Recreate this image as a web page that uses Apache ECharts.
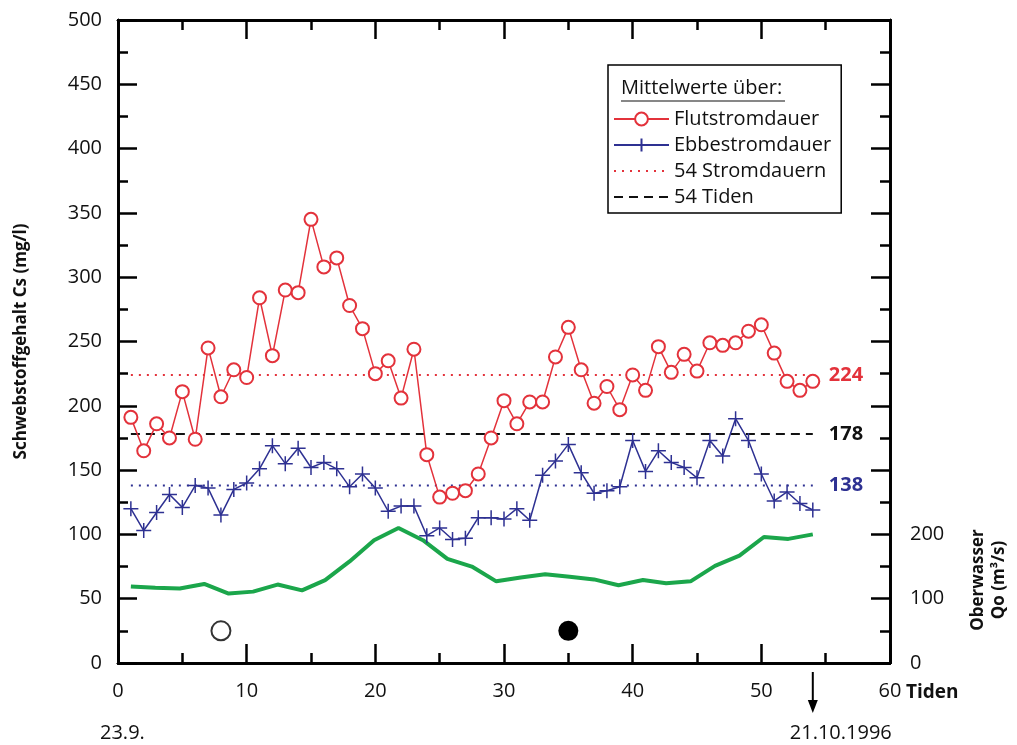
<!DOCTYPE html>
<html>
<head>
<meta charset="utf-8">
<script src="https://cdn.jsdelivr.net/npm/echarts@6/dist/echarts.min.js"></script>
<style>
  html, body { margin: 0; padding: 0; background: #fff; }
  #chart { width: 1017px; height: 745px; }
</style>
</head>
<body>
<div id="chart"></div>
<script>
// Tiden (Nummer der Tide)
const tides = [1, 2, 3, 4, 5, 6, 7, 8, 9, 10, 11, 12, 13, 14, 15, 16, 17, 18, 19, 20,
  21, 22, 23, 24, 25, 26, 27, 28, 29, 30, 31, 32, 33, 34, 35, 36, 37, 38, 39, 40,
  41, 42, 43, 44, 45, 46, 47, 48, 49, 50, 51, 52, 53, 54];

// Schwebstoffgehalt, Mittelwerte über Flutstromdauer (mg/l)
const flutValues = [191, 165, 186, 175, 211, 174, 245, 207, 228, 222, 284, 239, 290, 288, 345, 308, 315, 278, 260, 225,
  235, 206, 244, 162, 129, 132, 134, 147, 175, 204, 186, 203, 203, 238, 261, 228, 202, 215, 197, 224,
  212, 246, 226, 240, 227, 249, 247, 249, 258, 263, 241, 219, 212, 219];

// Schwebstoffgehalt, Mittelwerte über Ebbestromdauer (mg/l)
const ebbeValues = [120, 103, 117, 131, 121, 138, 136, 115, 135, 140, 151, 169, 155, 167, 152, 156, 151, 137, 147, 136,
  118, 122, 122, 99, 105, 96, 97, 113, 113, 112, 120, 111, 146, 157, 170, 148, 132, 134, 137, 173,
  149, 165, 156, 152, 144, 173, 161, 190, 173, 147, 126, 133, 124, 119];

// Oberwasser Qo (m³/s), Tagesmittel
const qoTides = [1, 2.9, 4.8, 6.7, 8.6, 10.5, 12.4, 14.3, 16.1, 18, 19.9, 21.8, 23.7, 25.6, 27.5,
  29.4, 31.3, 33.2, 35.1, 37, 38.9, 40.8, 42.6, 44.5, 46.4, 48.3, 50.2, 52.1, 54];
const qoValues = [119, 117, 116, 123, 108, 111, 122, 113, 129, 158, 191, 210, 191, 162, 150,
  127, 133, 138, 134, 130, 121, 129, 124, 127, 151, 167, 196, 193, 200];

// Mittelwerte über 54 Stromdauern / 54 Tiden
const meanFlut = 224;
const meanEbbe = 138;
const meanTide = 178;
const meanRange = [1, 54];

// Mondphasen (Vollmond / Neumond)
const fullMoon = [8];
const newMoon = [35];
const moonLevel = 25;

const xTicks = [0, 10, 20, 30, 40, 50, 60];
const startDate = "23.9.";
const endDate = "21.10.1996";
const endTide = 54;

const RED = "#e3323b";
const BLUE = "#2e3192";
const GREEN = "#1ba64b";
const FONT = "Open Sans";

const meanLine = (v) => meanRange.map((t) => [t, v]);

// Rahmenachse. grid 0: Beschriftung + Daten, grid 1: lange Striche,
// grid 2: kurze Striche – alle drei an derselben Stelle
const frameAxis = (extra, tickLen) => ({
  type: "value",
  axisLine: { show: true, onZero: false, lineStyle: { color: "#000", width: 2.5 } },
  axisTick: tickLen
    ? { show: true, inside: true, length: tickLen, lineStyle: { color: "#000", width: 2.5 } }
    : { show: false },
  axisLabel: { show: false },
  splitLine: { show: false },
  ...extra,
});

const xMin = xTicks[0];
const xMax = xTicks[xTicks.length - 1];
const gridBox = { left: 118, right: 127, top: 20, bottom: 82 };

const chart = echarts.init(document.getElementById("chart"));

const option = {
  animation: false,
  textStyle: { fontFamily: FONT },
  grid: [{ ...gridBox }, { ...gridBox }, { ...gridBox }],
  legend: {
    orient: "vertical",
    left: 608,
    top: 65,
    padding: [44, 10, 6, 5],
    itemGap: 6,
    itemWidth: 55,
    itemHeight: 16,
    borderColor: "#000",
    borderWidth: 1.5,
    borderRadius: 0,
    backgroundColor: "#fff",
    textStyle: { fontFamily: FONT, fontSize: 20, color: "#111" },
    data: [
      "Flutstromdauer",
      "Ebbestromdauer",
      { name: "54 Stromdauern", itemStyle: { opacity: 0 } },
      { name: "54 Tiden", itemStyle: { opacity: 0 } },
    ],
  },
  xAxis: [
    frameAxis({
      min: xMin, max: xMax, interval: 10,
      axisLabel: { show: true, fontSize: 20, color: "#111", margin: 18 },
    }, 0),
    frameAxis({ min: xMin, max: xMax, interval: 10, position: "top" }, 0),
    frameAxis({ gridIndex: 1, min: xMin, max: xMax, interval: 10 }, 19),
    frameAxis({ gridIndex: 1, min: xMin, max: xMax, interval: 10, position: "top" }, 19),
    frameAxis({ gridIndex: 2, min: xMin, max: xMax, interval: 5 }, 10),
    frameAxis({ gridIndex: 2, min: xMin, max: xMax, interval: 5, position: "top" }, 10),
  ],
  yAxis: [
    frameAxis({
      min: 0, max: 500, interval: 50,
      axisLabel: { show: true, fontSize: 20, color: "#111", margin: 16 },
      name: "Schwebstoffgehalt Cs (mg/l)",
      nameLocation: "middle",
      nameGap: 88,
      nameTextStyle: { fontSize: 17, fontWeight: "bold", color: "#111" },
    }, 0),
    frameAxis({
      min: 0, max: 1000, interval: 100, position: "right",
      axisLabel: {
        show: true, fontSize: 20, color: "#111", margin: 20,
        formatter: (v) => (v <= 200 ? String(v) : ""),
      },
    }, 0),
    frameAxis({ gridIndex: 1, min: 0, max: 500, interval: 50 }, 19),
    frameAxis({ gridIndex: 1, min: 0, max: 500, interval: 50, position: "right" }, 19),
    frameAxis({ gridIndex: 2, min: 0, max: 500, interval: 25 }, 10),
    frameAxis({ gridIndex: 2, min: 0, max: 500, interval: 25, position: "right" }, 10),
  ],
  series: [
    {
      name: "Flutstromdauer",
      type: "line",
      data: tides.map((t, i) => [t, flutValues[i]]),
      symbol: "emptyCircle",
      symbolSize: 13,
      lineStyle: { color: RED, width: 1.5 },
      itemStyle: { color: RED, borderWidth: 1.5 },
      z: 5,
    },
    {
      name: "Ebbestromdauer",
      type: "line",
      data: tides.map((t, i) => [t, ebbeValues[i]]),
      symbol: "path://M5,0L5,10M0,5L10,5",
      symbolSize: 15,
      lineStyle: { color: BLUE, width: 1.5 },
      itemStyle: { color: BLUE, borderColor: BLUE, borderWidth: 1.5 },
      z: 5,
    },
    {
      name: "54 Stromdauern",
      type: "line",
      data: meanLine(meanFlut),
      symbol: "none",
      lineStyle: { color: RED, width: 2, type: [2, 6] },
      itemStyle: { color: RED },
      endLabel: { show: true, formatter: (p) => p.value[1], color: RED, fontSize: 20, fontWeight: "bold", distance: 16 },
    },
    {
      name: "54 Stromdauern",
      type: "line",
      data: meanLine(meanEbbe),
      symbol: "none",
      lineStyle: { color: BLUE, width: 2, type: [2, 6] },
      itemStyle: { color: BLUE },
      endLabel: { show: true, formatter: (p) => p.value[1], color: BLUE, fontSize: 20, fontWeight: "bold", distance: 16 },
    },
    {
      name: "54 Tiden",
      type: "line",
      data: meanLine(meanTide),
      symbol: "none",
      lineStyle: { color: "#111", width: 2, type: [9, 6] },
      itemStyle: { color: "#111" },
      endLabel: { show: true, formatter: (p) => p.value[1], color: "#111", fontSize: 20, fontWeight: "bold", distance: 16 },
    },
    {
      name: "Oberwasser",
      type: "line",
      yAxisIndex: 1,
      data: qoTides.map((t, i) => [t, qoValues[i]]),
      symbol: "none",
      lineStyle: { color: GREEN, width: 4 },
      itemStyle: { color: GREEN },
    },
    {
      name: "Vollmond",
      type: "scatter",
      data: fullMoon.map((t) => [t, moonLevel]),
      symbol: "circle",
      symbolSize: 19,
      itemStyle: { color: "#fff", borderColor: "#000", borderWidth: 2 },
    },
    {
      name: "Neumond",
      type: "scatter",
      data: newMoon.map((t) => [t, moonLevel]),
      symbol: "circle",
      symbolSize: 20,
      itemStyle: { color: "#000", opacity: 1 },
    },
  ],
};

chart.setOption(option);

// Beschriftungen außerhalb des Diagramms
const xEnd = chart.convertToPixel({ xAxisIndex: 0 }, endTide);
const x0 = chart.convertToPixel({ xAxisIndex: 0 }, 0);
chart.setOption({
  graphic: [
    {
      type: "text",
      z: 100,
      left: 621,
      top: 78,
      style: { text: "Mittelwerte über:", fontFamily: FONT, fontSize: 20, fill: "#111" },
    },
    {
      type: "line",
      z: 100,
      shape: { x1: 621, y1: 101, x2: 785, y2: 101 },
      style: { stroke: "#111", lineWidth: 1.2 },
    },
    {
      type: "text",
      x: x0 - 18,
      y: 733,
      style: { text: startDate, fontFamily: FONT, fontSize: 20, fill: "#111", verticalAlign: "middle" },
    },
    {
      type: "text",
      x: xEnd + 28,
      y: 733,
      style: { text: endDate, fontFamily: FONT, fontSize: 20, fill: "#111", align: "center", verticalAlign: "middle" },
    },
    {
      type: "line",
      shape: { x1: xEnd, y1: 672, x2: xEnd, y2: 704 },
      style: { stroke: "#000", lineWidth: 2 },
    },
    {
      type: "polygon",
      shape: { points: [[xEnd - 5, 700], [xEnd + 5, 700], [xEnd, 713]] },
      style: { fill: "#000" },
    },
    {
      type: "text",
      x: 906,
      y: 693,
      style: { text: "Tiden", fontFamily: FONT, fontSize: 19, fontWeight: "bold", fill: "#111", verticalAlign: "middle" },
    },
    {
      type: "text",
      x: 989,
      y: 580,
      rotation: Math.PI / 2,
      style: {
        text: "Oberwasser\nQo (m³/s)",
        fontFamily: FONT,
        fontSize: 17,
        fontWeight: "bold",
        lineHeight: 21,
        fill: "#111",
        align: "center",
        verticalAlign: "middle",
      },
    },
  ],
});
</script>
</body>
</html>
